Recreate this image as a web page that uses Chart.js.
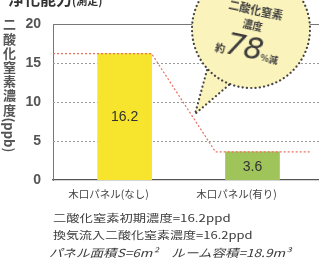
<!DOCTYPE html>
<html><head><meta charset="utf-8">
<script src="https://cdn.jsdelivr.net/npm/chart.js@4/dist/chart.umd.min.js"></script>
<style>
html,body{margin:0;padding:0;background:#fff;overflow:hidden}
#wrap{position:relative;width:319px;height:261px;overflow:hidden}
canvas{position:absolute;left:0;top:0}
.t{position:absolute;white-space:nowrap;color:#333;font-family:"Noto Sans CJK JP","Noto Sans",sans-serif;line-height:1}
</style></head><body>
<div id="wrap">
<canvas id="c" width="319" height="261"></canvas>
<div class="t" id="title" style="left:8px;top:-10px;font-size:16px;font-weight:bold;color:#333"></div>
<div class="t" id="ytitle" style="left:3px;top:18px;font-size:13px;font-weight:bold;color:#555;writing-mode:vertical-rl;text-orientation:mixed"></div>
<div class="t" id="bub" style="left:199px;top:-2px;width:104px;height:70px;transform:rotate(12deg);transform-origin:50% 50%;color:#3a3a3a;text-align:center">
  <div id="b1" style="position:absolute;left:0;width:104px;top:6px;font-size:11px;font-weight:bold"></div>
  <div id="b2" style="position:absolute;left:0;width:104px;top:22px;font-size:10px;font-weight:bold"></div>
  <div id="b3" style="position:absolute;left:0;width:104px;top:35px;"></div>
</div>
<div class="t" id="f1" style="left:53px;top:213px;font-size:10px;color:#3a3a3a;transform:scaleX(1.33);transform-origin:0 0"></div>
<div class="t" id="f2" style="left:53px;top:230px;font-size:10px;color:#3a3a3a;transform:scaleX(1.3);transform-origin:0 0"></div>
<div class="t" id="f3" style="left:49px;top:247px;font-size:11px;color:#3a3a3a;font-style:italic;transform:scaleX(1.23);transform-origin:0 0"></div>
</div>
<script>
// ---- data ----
const categories = ["木口パネル(なし)", "木口パネル(有り)"];
const values = [16.2, 3.6];
const yTicks = [0, 5, 10, 15, 20];
const barColors = ["#f6e52c", "#9fc45a"];
const chartTitle = "浄化能力";
const chartSubtitle = "(測定)";
const yTitle = "二酸化窒素濃度";
const yUnit = "(ppb)";
const bubbleLines = ["二酸化窒素", "濃度"];
const bubblePrefix = "約";
const bubbleValue = "78";
const bubbleSuffix = "%減";
const footnotes = [
  "二酸化窒素初期濃度=16.2ppd",
  "換気流入二酸化窒素濃度=16.2ppd",
  "パネル面積S=6m²　ルーム容積=18.9m³"
];

document.getElementById('title').innerHTML = chartTitle + '<span style="font-size:11px">' + chartSubtitle + '</span>';
document.getElementById('ytitle').innerHTML = '<span style="letter-spacing:1.2px">' + yTitle + '</span><span>' + yUnit + '</span>';
document.getElementById('b1').textContent = bubbleLines[0];
document.getElementById('b2').textContent = bubbleLines[1];
document.getElementById('b3').innerHTML =
  '<span style="font-size:10px;font-weight:bold">' + bubblePrefix + '</span>' +
  '<span style="font-size:30px;font-style:italic;font-family:\'DejaVu Sans\',sans-serif;letter-spacing:-1px">' + bubbleValue + '</span>' +
  '<span style="font-size:9px;font-weight:bold">' + bubbleSuffix + '</span>';
footnotes.forEach((f, i) => document.getElementById('f' + (i + 1)).textContent = f);

const gridPlugin = {
  id: 'gridDots',
  beforeDatasetsDraw(chart) {
    const {ctx, chartArea: a, scales: {y}} = chart;
    ctx.save();
    yTicks.forEach(v => {
      if (v === 0) return;
      const py = Math.round(y.getPixelForValue(v)) + 0.5;
      ctx.beginPath();
      if (v === 20) { ctx.setLineDash([]); ctx.strokeStyle = '#777'; ctx.lineWidth = 1.2; }
      else { ctx.setLineDash([2, 2]); ctx.strokeStyle = '#9a9a9a'; ctx.lineWidth = 1; }
      ctx.moveTo(a.left, py); ctx.lineTo(a.right, py); ctx.stroke();
    });
    ctx.restore();
  }
};

const overlayPlugin = {
  id: 'overlay',
  afterDatasetsDraw(chart) {
    const {ctx, chartArea: a, scales: {y}} = chart;
    const bars = chart.getDatasetMeta(0).data;
    const y0 = y.getPixelForValue(values[0]);
    const y1 = y.getPixelForValue(values[1]);
    const b0 = bars[0], b1 = bars[1];
    ctx.save();
    ctx.strokeStyle = '#e8705f';
    ctx.lineWidth = 1.2;
    ctx.setLineDash([2, 2]);
    ctx.beginPath();
    ctx.moveTo(a.left, y0);
    ctx.lineTo(b0.x + b0.width / 2, y0);
    ctx.lineTo(b1.x - b1.width / 2 - 10, y1);
    ctx.lineTo(a.right - 8, y1);
    ctx.stroke();
    ctx.restore();
    ctx.save();
    ctx.fillStyle = '#333';
    ctx.font = '14px "Liberation Sans", Arial, sans-serif';
    ctx.textAlign = 'center';
    ctx.textBaseline = 'middle';
    bars.forEach((b, i) => {
      const py = (b.y + b.base) / 2 + (i === 1 ? 1 : 0);
      ctx.fillText(values[i].toFixed(1), b.x, py);
    });
    ctx.restore();
  },
  afterDraw(chart) {
    const {ctx} = chart;
    const cx = 251, cy = 29, r = 59;
    ctx.save();
    ctx.beginPath();
    ctx.arc(cx, cy, r, 0, Math.PI * 2);
    ctx.fillStyle = '#fbf3bc';
    ctx.fill();
    ctx.beginPath();
    ctx.moveTo(207, 70); ctx.lineTo(195, 114); ctx.lineTo(230, 84); ctx.closePath();
    ctx.fill();
    ctx.strokeStyle = '#444';
    ctx.lineWidth = 2.2;
    ctx.lineCap = 'round';
    ctx.setLineDash([0.1, 4.2]);
    const a1 = Math.atan2(70 - cy, 207 - cx);
    const a2 = Math.atan2(84 - cy, 230 - cx);
    ctx.beginPath();
    ctx.arc(cx, cy, r, a2, a1 + Math.PI * 2, false);
    ctx.stroke();
    ctx.beginPath();
    ctx.moveTo(207, 70); ctx.lineTo(195, 114); ctx.lineTo(230, 84);
    ctx.stroke();
    ctx.restore();
  }
};

new Chart(document.getElementById('c'), {
  type: 'bar',
  data: {
    datasets: [{
      data: values.map((v, i) => ({x: i, y: v})),
      backgroundColor: barColors,
      borderWidth: 0,
      barThickness: 54
    }]
  },
  options: {
    responsive: false,
    animation: false,
    layout: {padding: {top: 24, left: 0, right: 0, bottom: 0}},
    plugins: {legend: {display: false}, tooltip: {enabled: false}},
    scales: {
      x: {
        type: 'linear',
        offset: false,
        min: -0.56,
        max: 1.52,
        afterBuildTicks: s => { s.ticks = categories.map((_, i) => ({value: i})); },
        afterFit: s => { s.height = 81; },
        grid: {display: false, drawTicks: false, offset: false},
        border: {display: true, color: '#555', width: 1.3},
        ticks: {
          autoSkip: false,
          maxRotation: 0,
          padding: 8,
          labelOffset: -16,
          color: '#444',
          font: {size: 10.5, family: '"Noto Sans CJK JP", sans-serif'},
          callback: v => categories[v]
        }
      },
      y: {
        min: 0,
        max: 20,
        afterBuildTicks: s => { s.ticks = yTicks.map(v => ({value: v})); },
        afterFit: s => { s.width = 53; },
        grid: {display: false},
        border: {display: true, color: '#777', width: 1},
        ticks: {
          padding: 4,
          color: '#555',
          font: {size: 14, weight: 'bold', family: '"Liberation Sans", Arial, sans-serif'}
        }
      }
    }
  },
  plugins: [gridPlugin, overlayPlugin]
});
</script>
</body></html>
